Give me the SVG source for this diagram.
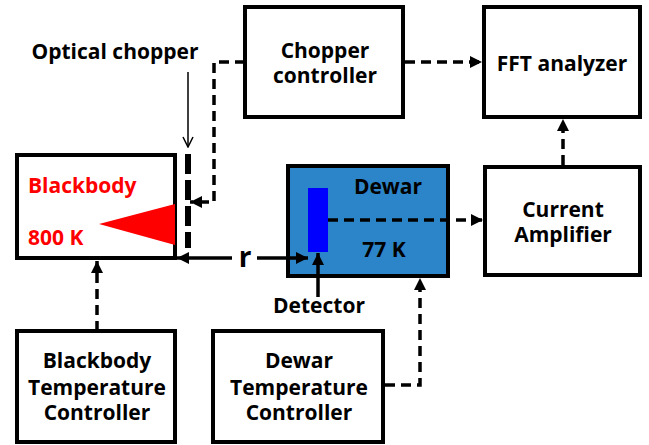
<svg xmlns="http://www.w3.org/2000/svg" width="649" height="445" viewBox="0 0 649 445">
<defs>
<style>
.box{fill:#fff;stroke:#000;stroke-width:4}
.t{font-family:"Open Sans","Noto Sans","DejaVu Sans",sans-serif;font-weight:bold;font-size:21px;fill:#000}
.m{text-anchor:middle}
.red{fill:#ff0000}
.dash{fill:none;stroke:#000;stroke-width:3.5;stroke-dasharray:10 6}
.solid{fill:none;stroke:#000;stroke-width:3.5}
</style>
<marker id="ah" viewBox="0 0 12 12" refX="12" refY="6" markerWidth="12" markerHeight="12" markerUnits="userSpaceOnUse" orient="auto">
<path d="M0,0 L12,6 L0,12 Z" fill="#000"/>
</marker>
<marker id="oa" viewBox="0 0 12 12" refX="11" refY="6" markerWidth="12" markerHeight="12" markerUnits="userSpaceOnUse" orient="auto">
<path d="M1,1 L11,6 L1,11" fill="none" stroke="#000" stroke-width="1.5"/>
</marker>
</defs>
<rect width="649" height="445" fill="#fff"/>

<g id="blackbody">
<rect class="box" x="17" y="155" width="158" height="103"/>
<polygon points="99,224 175,204 175,245" fill="#ff0000"/>
<text class="t red" x="28" y="193">Blackbody</text>
<text class="t red" x="28" y="245">800 K</text>
</g>

<g id="chopper">
<line x1="188" y1="154" x2="188" y2="248" stroke="#000" stroke-width="6" stroke-dasharray="20 6"/>
<text class="t m" x="115" y="59">Optical chopper</text>
</g>

<g id="chopper-controller">
<rect class="box" x="245" y="7" width="158" height="110"/>
<text class="t m" x="325" y="58">Chopper</text>
<text class="t m" x="325" y="83">controller</text>
</g>

<g id="fft">
<rect class="box" x="484" y="7" width="156" height="110"/>
<text class="t m" x="562" y="71">FFT analyzer</text>
</g>

<g id="dewar">
<rect x="288" y="166" width="160" height="110" fill="#2C85C8" stroke="#000" stroke-width="4"/>
<text class="t m" x="388" y="194">Dewar</text>
<text class="t m" x="384" y="257">77 K</text>
</g>

<g id="detector">
<rect x="308" y="188" width="20" height="64" fill="#0000ff"/>
<text class="t m" x="319" y="313">Detector</text>
</g>

<g id="current-amplifier">
<rect class="box" x="485" y="167" width="155" height="108"/>
<text class="t m" x="563" y="217">Current</text>
<text class="t m" x="563" y="242">Amplifier</text>
</g>

<g id="bb-temp-controller">
<rect class="box" x="17" y="331" width="158" height="111"/>
<text class="t m" x="97" y="368">Blackbody</text>
<text class="t m" x="97" y="395">Temperature</text>
<text class="t m" x="97" y="420">Controller</text>
</g>

<g id="dewar-temp-controller">
<rect class="box" x="213" y="331" width="170" height="111"/>
<text class="t m" x="299" y="368">Dewar</text>
<text class="t m" x="299" y="395">Temperature</text>
<text class="t m" x="299" y="420">Controller</text>
</g>

<g id="connectors">
<line class="dash" x1="405" y1="62" x2="482" y2="62" marker-end="url(#ah)"/>
<line class="dash" x1="563" y1="165" x2="563" y2="119" marker-end="url(#ah)"/>
<line class="dash" x1="328" y1="220" x2="483" y2="220" marker-end="url(#ah)"/>
<path class="dash" d="M245,62 H214 V202 H190" marker-end="url(#ah)"/>
<line class="dash" x1="97" y1="331" x2="97" y2="261" marker-end="url(#ah)"/>
<path class="dash" d="M385,385 H420 V278" marker-end="url(#ah)"/>
<line class="solid" x1="232" y1="258" x2="177" y2="258" marker-end="url(#ah)"/>
<line class="solid" x1="257" y1="258" x2="308" y2="258" marker-end="url(#ah)"/>
<line class="solid" x1="318" y1="297" x2="318" y2="253" marker-end="url(#ah)"/>
<line x1="188" y1="72" x2="188" y2="147" stroke="#000" stroke-width="1.5" marker-end="url(#oa)"/>
<text class="t m" x="245" y="267" style="font-size:28px">r</text>
</g>
</svg>
